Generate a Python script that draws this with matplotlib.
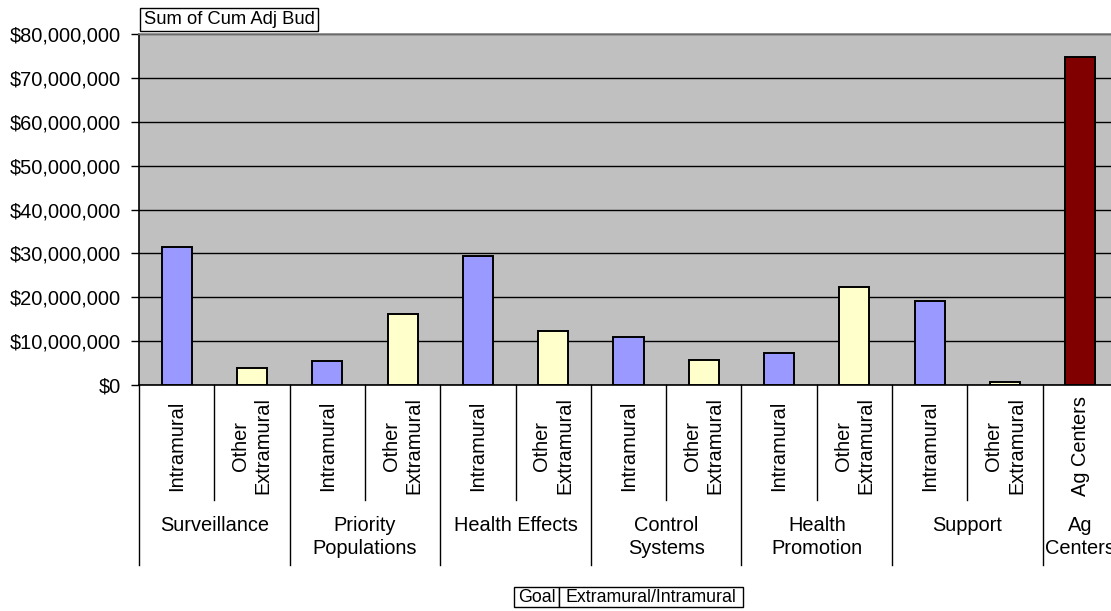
import matplotlib
matplotlib.use('Agg')
import matplotlib.pyplot as plt
import numpy as np
from matplotlib.ticker import FuncFormatter

plt.rcParams['font.family'] = ['Liberation Sans', 'DejaVu Sans']

# data (millions of dollars)
goals = ['Surveillance', 'Priority\nPopulations', 'Health Effects', 'Control\nSystems',
         'Health\nPromotion', 'Support', 'Ag\nCenters']
intramural = [31.5, 5.5, 29.5, 10.9, 7.3, 19.2]
other_extramural = [3.8, 16.1, 12.3, 5.7, 22.4, 0.6]
ag_centers = 74.8

labels, values, colors, group_of = [], [], [], []
for i in range(6):
    labels += ['Intramural', 'Other\nExtramural']
    values += [intramural[i] * 1e6, other_extramural[i] * 1e6]
    colors += ['#9999FF', '#FFFFCC']
    group_of += [i, i]
labels.append('Ag Centers')
values.append(ag_centers * 1e6)
colors.append('#800000')
group_of.append(6)

W, H = 1111, 611
fig = plt.figure(figsize=(W / 100, H / 100), dpi=100)

# plot area in pixels (extends slightly past right edge like the original)
left, right, top, bottom = 139, 1118, 34, 385
ax = fig.add_axes([left / W, 1 - bottom / H, (right - left) / W, (bottom - top) / H])
ax.set_facecolor('#C0C0C0')

x = np.arange(len(values))
ax.bar(x, values, width=0.4, color=colors, edgecolor='black', linewidth=1.4, zorder=3)

ax.set_xlim(-0.5, len(values) - 0.5)
ax.set_ylim(0, 80e6)
ax.set_yticks(np.arange(0, 80e6 + 1, 10e6))
ax.yaxis.set_major_formatter(FuncFormatter(lambda v, p: '${:,.0f}'.format(v)))
ax.tick_params(axis='y', labelsize=14.4, length=6, width=1, pad=7, direction='out')
ax.set_xticks([])
ax.yaxis.grid(True, color='black', linewidth=1, zorder=1)
ax.set_axisbelow(True)

for s in ['top', 'right']:
    ax.spines[s].set_color('#808080')
ax.spines['left'].set_color('black')
ax.spines['bottom'].set_color('black')
for s in ax.spines.values():
    s.set_linewidth(1.2)

h = bottom - top
tr = ax.get_xaxis_transform()

# category separators
for b in range(len(values) + 1):
    xb = b - 0.5
    is_group = b == 0 or b == len(values) or group_of[b] != group_of[b - 1]
    y_end = -(565 - bottom) / h if is_group else -(500 - bottom) / h
    ax.plot([xb, xb], [0, y_end], transform=tr, color='black', lw=1, clip_on=False)

# level 1 labels (rotated)
for i, lab in enumerate(labels):
    ax.text(i, -(446 - bottom) / h, lab, transform=tr, rotation=90, fontsize=14.4,
            ha='center', va='center', multialignment='center', linespacing=1.25)

# level 2 labels (goals)
for g, name in enumerate(goals):
    idx = [i for i in range(len(values)) if group_of[i] == g]
    xc = np.mean(idx)
    ax.text(xc, -(516 - bottom) / h, name, transform=tr, fontsize=14.4,
            ha='center', va='top', multialignment='center', linespacing=1.25)

# field buttons
def field_box(x0, x1, y0, y1, text, size):
    fig.patches.append(plt.Rectangle((x0 / W, 1 - y1 / H), (x1 - x0) / W, (y1 - y0) / H,
                                     transform=fig.transFigure, facecolor='white',
                                     edgecolor='black', linewidth=1))
    fig.text((x0 + x1) / 2 / W, 1 - (y0 + y1) / 2 / H, text, fontsize=size,
             ha='center', va='center')

field_box(140, 318, 8, 31, 'Sum of Cum Adj Bud', 13.2)
field_box(514, 559, 587, 607, 'Goal', 12.8)
field_box(559, 743, 587, 607, 'Extramural/Intramural', 12.8)

fig.savefig('out.png', dpi=100)
